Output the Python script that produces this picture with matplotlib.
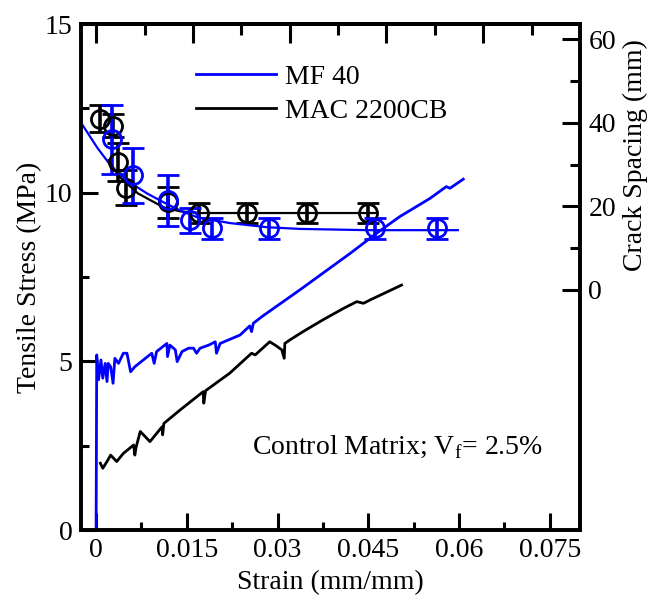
import matplotlib
matplotlib.use('Agg')
import matplotlib.pyplot as plt
import numpy as np
from matplotlib.ticker import MultipleLocator, FixedLocator, FuncFormatter, NullFormatter

plt.rcParams['font.family'] = ['Liberation Serif', 'DejaVu Serif']
plt.rcParams['mathtext.fontset'] = 'custom'
plt.rcParams['mathtext.rm'] = 'Liberation Serif'
plt.rcParams['font.size'] = 20

# tensile stress-strain curves
mf_strain = [0.0, 0.0001, 0.0004, 0.0008, 0.0011, 0.0015, 0.0018, 0.0020, 0.0024, 0.0028,
             0.0031, 0.0037, 0.0045, 0.0051, 0.0057, 0.0064, 0.0078, 0.0092, 0.0096, 0.0100,
             0.0117, 0.0118, 0.0122, 0.0131, 0.0134, 0.0142, 0.0153, 0.0161, 0.0166, 0.0172,
             0.0186, 0.0197, 0.0199, 0.0205, 0.0238, 0.0254, 0.0257, 0.0260, 0.0276, 0.0337,
             0.0420, 0.0464, 0.0502, 0.0552, 0.0579, 0.0585, 0.0607]
mf_stress = [0.0, 5.19, 4.45, 5.04, 4.50, 4.94, 4.40, 4.94, 4.84, 4.35,
             5.09, 4.94, 5.24, 5.24, 4.69, 4.84, 5.04, 5.24, 4.94, 5.29,
             5.53, 5.14, 5.48, 5.34, 4.99, 5.29, 5.39, 5.39, 5.24, 5.39,
             5.48, 5.58, 5.24, 5.53, 5.78, 6.05, 5.88, 6.13, 6.35, 7.12,
             8.20, 8.80, 9.29, 9.83, 10.18, 10.13, 10.40]

mac_strain = [0.0007, 0.0011, 0.0018, 0.0024, 0.0034, 0.0045, 0.0062, 0.0064, 0.0066, 0.0073,
              0.0089, 0.0109, 0.0110, 0.0112, 0.0139, 0.0177, 0.0178, 0.0181, 0.0221, 0.0257,
              0.0263, 0.0287, 0.0296, 0.0307, 0.0311, 0.0312, 0.0320, 0.0342, 0.0375, 0.0409,
              0.0431, 0.0442, 0.0453, 0.0505]
mac_stress = [1.98, 1.83, 2.03, 2.22, 2.03, 2.27, 2.52, 2.22, 2.45, 2.92,
              2.62, 3.06, 2.82, 3.16, 3.56, 4.10, 3.76, 4.13, 4.65, 5.24,
              5.19, 5.58, 5.48, 5.34, 5.09, 5.53, 5.63, 5.88, 6.23, 6.57,
              6.77, 6.72, 6.82, 7.26]

# crack spacing (right axis)
mf_cs_strain = [0.0026, 0.0061, 0.0119, 0.0155, 0.0191, 0.0286, 0.0461, 0.0563]
mf_cs = [36.0, 27.4, 21.4, 16.7, 14.8, 14.8, 14.8, 14.8]
mf_cs_err = [8.2, 6.5, 6.0, 3.0, 2.5, 2.5, 2.5, 2.5]

mac_cs_strain = [0.0007, 0.0028, 0.0036, 0.0050, 0.0119, 0.0170, 0.0249, 0.0349, 0.0449]
mac_cs = [41.0, 39.3, 30.6, 24.4, 21.0, 18.4, 18.4, 18.4, 18.4]
mac_cs_err = [3.2, 2.8, 4.5, 4.2, 3.7, 2.5, 2.5, 2.5, 2.5]

# fitted trend curves
mf_fit_strain = [-0.0025, 0.0002, 0.0028, 0.0056, 0.0084, 0.0111, 0.0139, 0.0167,
                 0.0221, 0.0283, 0.0337, 0.0448, 0.0598]
mf_fit_cs = [40.0, 34.0, 29.0, 25.7, 23.1, 21.0, 19.0, 17.4, 16.0, 15.0, 14.6, 14.3, 14.3]
mac_fit_strain = [0.0020, 0.0040, 0.0069, 0.0111, 0.0139, 0.0172, 0.0464]
mac_fit_cs = [31.0, 26.9, 23.1, 19.8, 18.8, 18.4, 18.4]

fig = plt.figure(figsize=(6.51, 6.01), dpi=100)
ax = fig.add_axes([81/651, 71/601, 499/651, 506/601])

ax.plot(mf_strain, mf_stress, color='#0000ff', lw=2.0, label='MF 40')
ax.plot(mac_strain, mac_stress, color='black', lw=2.0, label='MAC 2200CB')

ax.set_xlim(-0.0025, 0.08)
ax.set_ylim(0, 15)
ax.xaxis.set_major_locator(FixedLocator([0, 0.015, 0.03, 0.045, 0.06, 0.075]))
ax.xaxis.set_minor_locator(FixedLocator([0.0075, 0.0225, 0.0375, 0.0525, 0.0675]))
ax.xaxis.set_major_formatter(FuncFormatter(lambda v, p: '0' if v == 0 else ('%g' % v)))
ax.yaxis.set_major_locator(MultipleLocator(5))
ax.yaxis.set_minor_locator(MultipleLocator(2.5))
ax.tick_params(which='major', direction='in', length=12, width=2.2, top=False, right=False, pad=6)
ax.tick_params(which='minor', direction='in', length=6, width=2.2, top=False, right=False)
for s in ax.spines.values():
    s.set_linewidth(2.6)
ax.set_xlabel('Strain (mm/mm)', labelpad=5)
ax.set_ylabel('Tensile Stress (MPa)', labelpad=2)

# top axis ticks
top = ax.secondary_xaxis('top')
top.xaxis.set_major_locator(FixedLocator([0, 0.016, 0.032, 0.048, 0.064]))
top.xaxis.set_minor_locator(FixedLocator([0.008, 0.024, 0.040, 0.056, 0.072]))
top.xaxis.set_major_formatter(NullFormatter())
top.tick_params(which='major', direction='in', length=14, width=2.2)
top.tick_params(which='minor', direction='in', length=8, width=2.2)
top.spines['top'].set_linewidth(2.6)

ax2 = ax.twinx()
ax2.set_ylim(-57.4, 63.6)
ax2.errorbar(mac_cs_strain, mac_cs, yerr=mac_cs_err, fmt='o', mfc='none', mec='black',
             ecolor='black', ms=13, mew=2.0, elinewidth=2.6, capsize=8, capthick=3.0)
ax2.errorbar(mf_cs_strain, mf_cs, yerr=mf_cs_err, fmt='o', mfc='none', mec='#0000ff',
             ecolor='#0000ff', ms=13, mew=2.0, elinewidth=2.6, capsize=8, capthick=3.0)
ax2.plot(mac_fit_strain, mac_fit_cs, color='black', lw=1.6)
ax2.plot(mf_fit_strain, mf_fit_cs, color='#0000ff', lw=1.6)
ax2.yaxis.set_major_locator(FixedLocator([0, 20, 40, 60]))
ax2.yaxis.set_minor_locator(FixedLocator([10, 30, 50]))
ax2.tick_params(which='major', direction='in', length=13, width=2.2, pad=6)
ax2.tick_params(which='minor', direction='in', length=7, width=2.2)
for s in ax2.spines.values():
    s.set_linewidth(2.6)
ax2.set_ylabel('Crack Spacing (mm)', rotation=90)
ax2.yaxis.set_label_coords(1.086, 0.74)

h, l = ax.get_legend_handles_labels()
ax2.legend(h, l, loc='upper left', bbox_to_anchor=(0.18, 0.97), frameon=False,
           handlelength=2.9, handletextpad=0.3, labelspacing=0.32, fontsize=20)

ax2.text(0.343, 0.15, r'Control Matrix; V$_\mathregular{f}$= 2.5%', transform=ax.transAxes,
         fontsize=20, ha='left', va='baseline')

fig.savefig('out.png', dpi=100)
